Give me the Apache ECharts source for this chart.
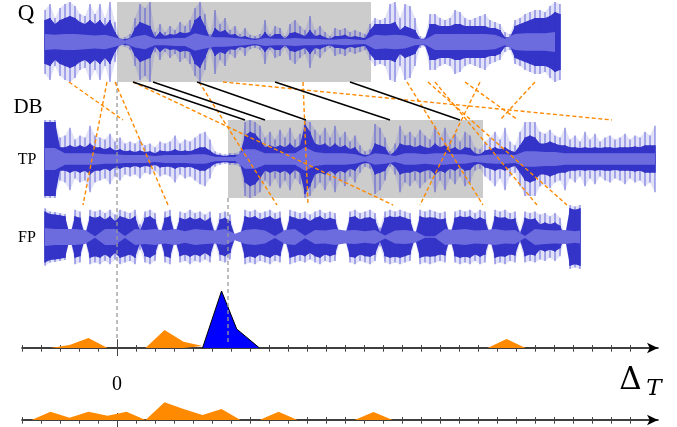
<!DOCTYPE html>
<html><head><meta charset="utf-8">
<script src="https://cdn.jsdelivr.net/npm/echarts@6/dist/echarts.min.js"></script>
<style>html,body{margin:0;padding:0;background:#fff}#c{width:677px;height:427px}</style>
</head><body><div id="c"></div>
<script>
// ---- waveform envelopes (amplitude in % of full scale), one value per frame ----
const qPeak=[80,95,60,85,95,100,90,70,65,95, 70,95,60,100,50,10,12,20,60,95, 85,100,25,45,25,40,30,50,40,55, 85,100,70,20,80,45,60,30,40,20, 35,18,15,20,55,20,40,35,15,45, 55,40,30,65,30,40,25,15,35,30, 35,25,30,25,20,45,60,55,60,95, 100,60,95,90,60,15,12,70,70,60, 55,60,80,75,60,55,60,65,70,55, 50,45,25,20,55,60,70,75,80,80, 75,90,100,95];
const qBody=[55,60,45,55,60,65,60,50,45,55, 45,55,40,55,25,6,7,10,35,50, 45,40,12,25,15,20,18,25,22,25, 55,65,40,10,35,25,30,18,20,12, 15,10,8,10,25,12,20,20,8,22, 25,20,15,30,15,18,12,8,15,15, 18,12,15,12,10,30,45,45,45,45, 50,30,40,35,30,8,8,45,45,40, 40,40,45,45,40,40,40,40,40,35, 35,30,12,12,40,45,50,55,60,60, 60,65,75,70];
// rms band, one value every 2 frames
const qRms=[20,18,20,20,18,16,18,12,4,14, 18,8,8,10,10,22,16,12,12,10, 8,5,10,8,8,10,8,8,6,6, 8,6,5,18,16,18,16,8,6,20, 20,20,20,20,20,18,8,20,22,22, 22,25];

const tpPeak=[100,100,100,55,60,80,50,60,55,85, 60,55,50,65,45,55,40,45,40,50, 35,40,30,45,40,45,60,40,50,45, 55,65,70,50,20,15,12,15,15,20, 95,100,95,85,55,70,50,75,55,80, 50,65,100,95,75,60,80,55,85,55, 70,45,60,35,20,25,90,80,55,20, 40,85,60,70,55,75,60,50,85,55, 80,50,65,45,70,60,30,25,45,55, 70,50,80,45,35,70,95,95,95,70, 65,75,60,55,80,50,60,45,70,50, 65,45,55,60,50,55,65,50,60,55, 70,60,85];
const tpBody=[95,95,95,30,30,35,30,35,30,40, 30,30,25,30,22,25,20,22,18,22, 18,20,15,22,20,20,25,20,22,20, 25,30,30,22,12,10,8,10,10,12, 60,70,65,50,30,35,30,35,30,40, 28,35,90,70,40,35,40,30,40,30, 35,25,30,15,10,12,40,35,30,10, 20,40,35,35,30,35,30,28,40,30, 35,25,30,22,30,28,15,12,22,25, 30,25,30,22,18,35,55,60,55,40, 40,45,40,35,35,30,30,28,30,28, 30,28,30,30,28,30,30,30,32,30, 35,35,35];
const tpRms=[28,28,15,15,15,15,12,12,10,10, 10,8,10,10,10,12,12,6,5,5, 25,25,15,15,15,15,30,18,15,15, 15,12,6,15,12,8,15,15,12,15, 15,12,12,8,10,12,12,10,20,20, 18,18,15,15,15,15,15,15,15,15, 15,15];

const fpPeak=[90,80,78,75,72,5,85,80,10,85, 80,85,75,85,70,85,80,75,85,40, 80,85,75,10,80,85,15,80,75,85, 75,80,70,80,20,75,80,70,5,5, 85,80,85,75,80,85,75,80,10,85, 80,75,80,70,80,85,75,80,75,10, 5,80,85,75,80,85,75,30,80,85, 80,85,80,75,8,85,80,85,80,75, 80,5,80,85,80,85,75,85,80,10, 85,80,85,75,80,20,80,75,80,70, 75,65,75,60,5,100,95,100];
const fpBody=[80,72,70,68,65,3,65,60,5,65, 60,65,55,65,50,65,60,55,65,20, 60,65,55,5,60,65,8,60,55,62, 55,60,50,60,10,55,60,50,3,3, 65,60,65,55,60,65,55,60,5,65, 60,55,60,50,60,65,55,60,55,4, 3,62,65,55,60,62,55,15,60,65, 62,65,60,55,4,65,60,62,60,55, 58,3,60,65,62,65,55,62,55,5, 65,60,62,55,58,10,60,55,58,40, 45,40,45,35,3,90,85,90];
const fpRms=[28,25,25,25,22,2,25,25,3,25, 22,25,20,25,18,25,22,20,25,10, 22,25,20,3,22,25,4,22,20,25, 20,22,18,22,5,20,22,18,2,2, 25,22,25,20,22,25,20,22,3,25, 22,20,22,18,22,25,20,22,20,3, 2,22,25,20,22,25,20,8,22,25, 22,25,22,20,3,25,22,25,22,20, 22,2,22,25,22,25,20,25,22,3, 25,22,25,20,22,5,22,20,22,15, 18,15,18,12,2,35,32,35];

// selected query segment and its matching DB segment (frames)
const qSel=[14.4,65.2];
const tpSel=[36.6,87.6];

// matches: [query frame, reference, reference frame]
const trueMatches=[[17.6,'TP',40],[21.6,'TP',44],[30.4,'TP',52.2],[46,'TP',69],[61,'TP',83]];
const falseMatches=[[4.8,'TP',15.6],[12.4,'FP',7.6],[14.0,'FP',24.6],[17.6,'FP',69.6],[30.8,'FP',46.4],[35.6,'TP',113.4],[51.6,'FP',52.6],[72.4,'FP',87.6],[76.6,'FP',104.4],[78.0,'FP',98.4],[87.0,'FP',75.0],[84.0,'TP',94.6],[98.0,'TP',91.0]];

// offset histograms [delta, count]; null separates groups
const histTPfalse=[[-3.5,0],[-2.5,3],[-1.5,10],[-0.5,0],null,[1.5,0],[2.5,18],[3.5,6.3],[4.5,2],[4.6,0],null,[19.5,0],[20.5,9],[21.5,0]];
const histTPtrue=[[4.5,0],[5.5,57],[6.3,19],[7.5,0]];
const histFP=[[-4.5,0],[-3.5,8.3],[-2.5,2.3],[-1.5,8.3],[-0.5,4.3],[0.5,8.3],[1.5,0],[2.5,17.7],[3.5,11],[4.5,5],[5.5,11],[6.5,0],null,[7.5,0],[8.5,8.3],[9.5,0],null,[12.5,0],[13.5,8],[14.5,0]];
const deltaTicks=[-5,-4,-3,-2,-1,0,1,2,3,4,5,6,7,8,9,10,11,12,13,14,15,16,17,18,19,20,21,22,23,24,25,26,27];

const C_PEAK='rgba(70,70,210,0.5)', C_HALO='rgba(70,70,210,0.16)', C_BODY='#3434c8', C_RMS='#6c6cdf', ORANGE='#ff8a00';

const chart=echarts.init(document.getElementById('c'),null,{renderer:'canvas'});

function area(axis,arr,step,color,z){
  const up=arr.map((v,i)=>[i*step,v]);
  const dn=arr.map((v,i)=>[i*step,-v]);
  return [up,dn].map(d=>({type:'line',xAxisIndex:axis,yAxisIndex:axis,data:d,symbol:'none',silent:true,z:z,
    lineStyle:{width:0},areaStyle:{color:color,opacity:1,origin:0},animation:false}));
}
function spikes(axis,arr,color,w,z){
  return {type:'custom',xAxisIndex:axis,yAxisIndex:axis,silent:true,z:z,animation:false,
    data:arr.map((v,i)=>[i,v]),
    renderItem:function(params,api){
      const a=api.coord([api.value(0),api.value(1)]);
      const b=api.coord([api.value(0),-api.value(1)]);
      return {type:'line',shape:{x1:a[0],y1:a[1],x2:b[0],y2:b[1]},style:{stroke:color,lineWidth:w}};
    }};
}
function wave(axis,peak,body,rms,sel){
  let s=[];
  if(sel){
    s.push({type:'line',xAxisIndex:axis,yAxisIndex:axis,data:[],z:0,silent:true,
      markArea:{silent:true,itemStyle:{color:'#cccccc'},data:[[{xAxis:sel[0],yAxis:-100},{xAxis:sel[1],yAxis:100}]]}});
  }
  s=s.concat(area(axis,peak,1,C_HALO,1));
  s.push(spikes(axis,peak,C_PEAK,1.6,2));
  s=s.concat(area(axis,body,1,C_BODY,3));
  s.push(spikes(axis,body,C_BODY,1.6,3));
  s=s.concat(area(axis,rms,2,C_RMS,4));
  return s;
}
function wAxisX(grid,n){return {type:'value',gridIndex:grid,min:0,max:n,show:false};}
function wAxisY(grid){return {type:'value',gridIndex:grid,min:-100,max:100,show:false};}
function tickAxis(grid,vals,inside,len,showLine){
  return {type:'value',gridIndex:grid,min:-5,max:28.47,interval:1,position:'bottom',
    axisLine:{show:showLine,onZero:false,lineStyle:{color:'#000',width:1.6},symbol:['none','arrow'],symbolSize:[8,11]},
    axisTick:{show:true,customValues:vals,inside:inside,length:len,lineStyle:{color:'#444',width:1}},
    axisLabel:{show:false},splitLine:{show:false}};
}

const option={
  animation:false,
  grid:[
    {left:45,top:2,width:515,height:80},
    {left:45,top:120,width:610,height:78},
    {left:45,top:205,width:535,height:64},
    {left:22,top:288,width:636,height:60},
    {left:22,top:360,width:636,height:60}
  ],
  xAxis:[
    wAxisX(0,qPeak.length-1),wAxisX(1,tpPeak.length-1),wAxisX(2,fpPeak.length-1),
    tickAxis(3,deltaTicks,true,3,true),tickAxis(3,deltaTicks,false,3.7,false),tickAxis(3,[0],true,8.7,false),tickAxis(3,[0],false,8,false),
    tickAxis(4,deltaTicks,true,3,true),tickAxis(4,deltaTicks,false,3.7,false),tickAxis(4,[0],true,7,false),tickAxis(4,[0],false,7,false)
  ],
  yAxis:[wAxisY(0),wAxisY(1),wAxisY(2),
    {type:'value',gridIndex:3,min:0,max:60,show:false},
    {type:'value',gridIndex:4,min:0,max:60,show:false}],
  series:[].concat(
    wave(0,qPeak,qBody,qRms,qSel),
    wave(1,tpPeak,tpBody,tpRms,tpSel),
    wave(2,fpPeak,fpBody,fpRms,null),
    [
      {type:'line',xAxisIndex:3,yAxisIndex:3,data:histTPfalse,symbol:'none',connectNulls:false,z:3,lineStyle:{width:0},areaStyle:{color:ORANGE,opacity:1,origin:0}},
      {type:'line',xAxisIndex:3,yAxisIndex:3,data:histTPtrue,symbol:'none',z:4,lineStyle:{width:1,color:'#000'},areaStyle:{color:'#0000ff',opacity:1,origin:0}},
      {type:'line',xAxisIndex:7,yAxisIndex:4,data:histFP,symbol:'none',connectNulls:false,z:3,lineStyle:{width:0},areaStyle:{color:ORANGE,opacity:1,origin:0}}
    ])
};
chart.setOption(option);

function px(ax,ay,x,y){return chart.convertToPixel({xAxisIndex:ax,yAxisIndex:ay},[x,y]);}
const refAxis={TP:1,FP:2};
const g=[];
function matchLine(m,color,dash){
  const a=px(0,0,m[0],-100);
  const ax=refAxis[m[1]];
  const b=px(ax,ax,m[2],100);
  g.push({type:'line',z:100,shape:{x1:a[0],y1:a[1],x2:b[0],y2:b[1]},style:{stroke:color,lineWidth:1.4,lineDash:dash}});
}
falseMatches.forEach(m=>matchLine(m,ORANGE,[4,2.5]));
trueMatches.forEach(m=>matchLine(m,'#000',null));
// dashed guides from selections down to the offset axis
const z0=px(0,0,qSel[0],-100), z1=px(3,3,0,10);
g.push({type:'line',z:99,shape:{x1:z1[0],y1:z0[1],x2:z1[0],y2:z1[1]},style:{stroke:'#9a9a9a',lineWidth:1.3,lineDash:[4,3]}});
const t0=px(1,1,tpSel[0],-100), t1=px(3,3,0,5);
g.push({type:'line',z:99,shape:{x1:t0[0],y1:t0[1],x2:t0[0],y2:t1[1]},style:{stroke:'#9a9a9a',lineWidth:1.3,lineDash:[4,3]}});
function txt(s,x,y,size,fam,italic){
  g.push({type:'text',z:101,x:x,y:y,style:{text:s,fill:'#000',font:(italic?'italic ':'')+size+'px '+fam,align:'center',verticalAlign:'middle',textAlign:'center',textVerticalAlign:'middle'}});
}
const SERIF='"Liberation Serif", serif';
txt('Q',26,14,23,SERIF);
txt('DB',28,107,21,SERIF);
txt('TP',27,160,16,SERIF);
txt('FP',27,238,16,SERIF);
txt('0',117,385,20,SERIF);
txt('Δ',630.5,381,31,'"DejaVu Serif", serif');
txt('T',654,389,23,'"DejaVu Serif", serif',true);
chart.setOption({graphic:{elements:g}});
</script></body></html>
